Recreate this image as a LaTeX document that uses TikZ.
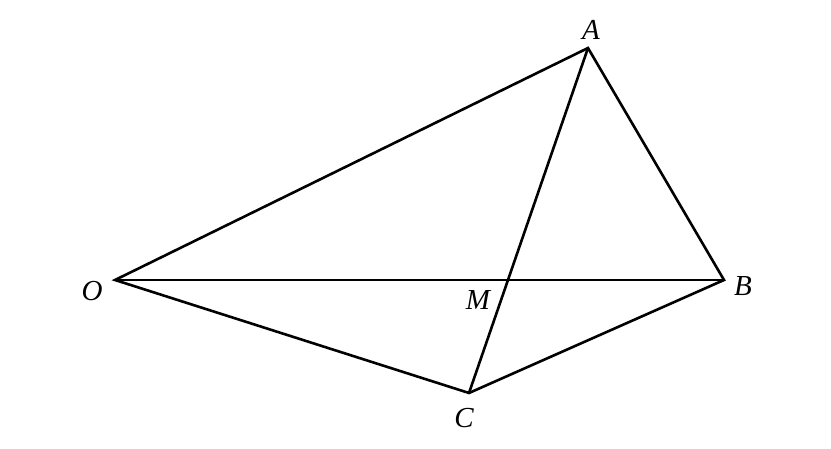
\documentclass[tikz,border=0pt]{standalone}
\usepackage{fontspec}
\setmainfont{Liberation Serif}
\begin{document}
\begin{tikzpicture}[x=1pt,y=-1pt,
  seg/.style={line width=2.6pt,line join=miter},
  lbl/.style={font=\fontsize{29}{34}\selectfont\itshape,inner sep=0pt}]
\useasboundingbox (0,0) rectangle (831,449);
\coordinate (O) at (115,280);
\coordinate (A) at (588,48);
\coordinate (B) at (724,280);
\coordinate (C) at (469,393);
\draw[seg] (O) -- (A) -- (B) -- (C) -- cycle;
\draw[seg] (O) -- (B);
\draw[seg] (A) -- (C);
\node[lbl] (lO) at (92,291) {O};
\node[lbl] (lA) at (591,29.5) {A};
\node[lbl] (lB) at (743,286) {B};
\node[lbl] (lC) at (464,418) {C};
\node[lbl] (lM) at (478,300) {M};
\end{tikzpicture}
\end{document}
